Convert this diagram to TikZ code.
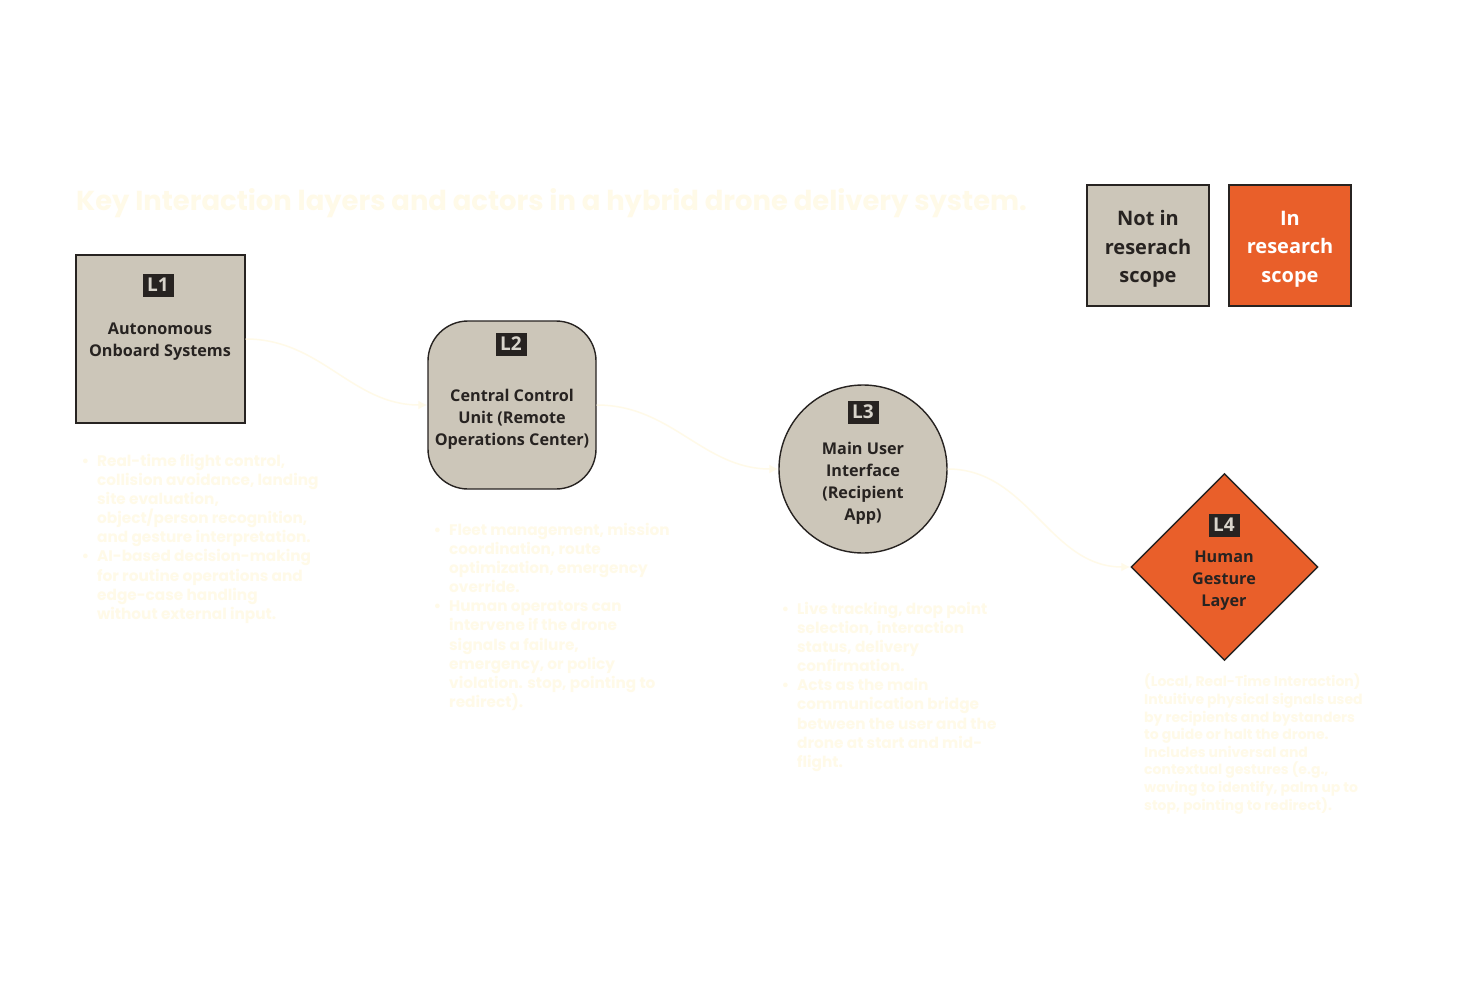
\documentclass[tikz,border=0pt]{standalone}
\usepackage{fontspec}
\setmainfont{Open Sans}
\newfontfamily\headfont{Poppins}
\usetikzlibrary{shapes.geometric,arrows.meta}

\definecolor{ink}{HTML}{272321}
\definecolor{stone}{HTML}{CCC6B9}
\definecolor{flame}{HTML}{E95F2A}
\definecolor{cream}{HTML}{FFFAE8}
\definecolor{badgetext}{HTML}{D8D4CB}

\tikzset{
  layer/.style={draw=ink, line width=1.4pt, fill=stone, inner sep=0pt},
  badge/.style={fill=ink, text=badgetext, font=\bfseries\fontsize{19}{20}\selectfont,
    minimum width=31pt, minimum height=23pt, inner sep=0pt},
  lname/.style={text=ink, align=center, inner sep=0pt, font=\bfseries\fontsize{16.2}{22}\selectfont},
  legend/.style={draw=ink, line width=1.4pt, minimum width=122pt, minimum height=121pt},
  legendtext/.style={align=center, font=\bfseries\fontsize{20}{28.5}\selectfont},
  desc/.style={text=cream, align=left, inner sep=0pt, anchor=north west,
    font=\headfont\bfseries\fontsize{15.3}{19.1}\selectfont},
  conn/.style={cream, line width=1.5pt, -{Latex[length=9pt,width=9pt]}}
}
\newcommand{\bul}{\llap{\textbullet\hspace{8pt}}}

\begin{document}
\begin{tikzpicture}[x=1pt,y=-1pt]

\fill[white] (0,0) rectangle (1460,985);
\useasboundingbox (0,0) rectangle (1460,985);

\node[anchor=base west, text=cream, inner sep=0pt, font=\headfont\bfseries\fontsize{27.4}{30}\selectfont] (title) at (76,210)
  {Key Interaction layers and actors in a hybrid drone delivery system.};

% legend
\node[legend, fill=stone] (notscope) at (1148,245.5) {};
\node[legend, fill=flame] (inscope) at (1290,245.5) {};
\node[legendtext, text=ink] (notscopetext) at (1148,249) {Not in\\reserach\\scope};
\node[legendtext, text=white] (inscopetext) at (1290,249) {In\\research\\scope};

% layers
\node[layer, rectangle, minimum width=169pt, minimum height=168pt] (l1) at (160.5,339) {};
\node[layer, rectangle, rounded corners=40pt, minimum width=168pt, minimum height=168pt] (l2) at (512,405) {};
\node[layer, circle, minimum size=168pt] (l3) at (863,469) {};
\node[layer, diamond, fill=flame, minimum width=187pt, minimum height=187pt] (l4) at (1224.5,567) {};

\node[badge] (b1) at (158,285) {L1};
\node[badge] (b2) at (511,344) {L2};
\node[badge] (b3) at (863,412) {L3};
\node[badge] (b4) at (1224,525) {L4};

\node[lname] (t1) at (160,342) {Autonomous\\Onboard Systems};
\node[lname] (t2) at (512,419) {Central Control\\Unit (Remote\\Operations Center)};
\node[lname] (t3) at (863,483) {Main User\\Interface\\(Recipient\\App)};
\node[lname] (t4) at (1224,581) {Human\\Gesture\\Layer};

% connectors
\draw[conn] (l1.east) to[out=0,in=180] (l2.west);
\draw[conn] (l2.east) to[out=0,in=180] (l3.west);
\draw[conn] (l3.east) to[out=0,in=180] (l4.west);

% descriptions
\node[desc] (d1) at (97,454) {\bul Real-time flight control,\\collision avoidance, landing\\site evaluation,\\object/person recognition,\\and gesture interpretation.\\\bul AI-based decision-making\\for routine operations and\\edge-case handling\\without external input.};
\node[desc] (d2) at (449,523) {\bul Fleet management, mission\\coordination, route\\optimization, emergency\\override.\\\bul Human operators can\\intervene if the drone\\signals a failure,\\emergency, or policy\\violation. stop, pointing to\\redirect).};
\node[desc] (d3) at (797,602) {\bul Live tracking, drop point\\selection, interaction\\status, delivery\\confirmation.\\\bul Acts as the main\\communication bridge\\between the user and the\\drone at start and mid-\\flight.};
\node[desc, font=\headfont\bfseries\fontsize{14}{17.6}\selectfont] (d4) at (1144,674) {(Local, Real-Time Interaction)\\Intuitive physical signals used\\by recipients and bystanders\\to guide or halt the drone.\\Includes universal and\\contextual gestures (e.g.,\\waving to identify, palm up to\\stop, pointing to redirect).};

\end{tikzpicture}
\end{document}
